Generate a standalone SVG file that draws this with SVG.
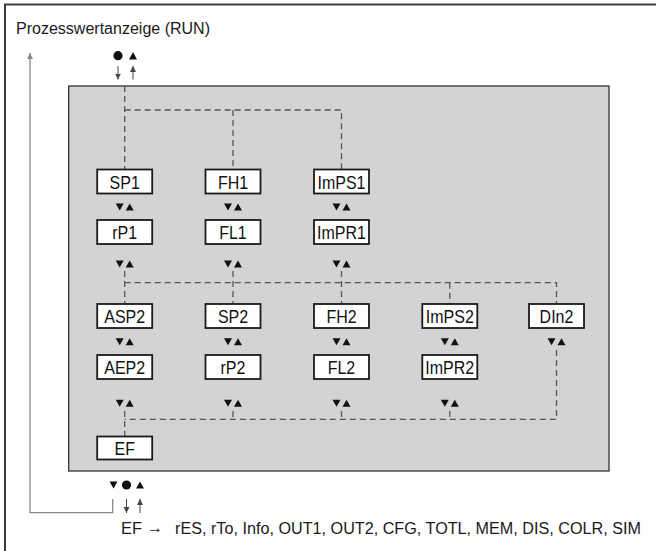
<svg xmlns="http://www.w3.org/2000/svg" width="656" height="551" viewBox="0 0 656 551">
<style>
.lbl{font-family:"Liberation Sans",Arial,sans-serif;font-size:18px;fill:#111;text-anchor:middle}
.txt{font-family:"Liberation Sans",Arial,sans-serif;font-size:16px;fill:#1a1a1a}
.box{fill:#fff;stroke:#1a1a1a;stroke-width:1.8}
.dash{fill:none;stroke:#555;stroke-width:1.3;stroke-dasharray:6 4}
.thin{fill:none;stroke:#444;stroke-width:1}
.ret{fill:none;stroke:#8a8a8a;stroke-width:1.3}
.sym{fill:#111}
</style>
<defs>
<marker id="ah" viewBox="0 0 6 8" refX="6" refY="4" markerWidth="6" markerHeight="8" markerUnits="userSpaceOnUse" orient="auto">
<path d="M0,1 L6,4 L0,7 Z" fill="#444"/>
</marker>
<marker id="ahg" viewBox="0 0 6 8" refX="6" refY="4" markerWidth="6" markerHeight="8" markerUnits="userSpaceOnUse" orient="auto">
<path d="M0,1 L6,4 L0,7 Z" fill="#8a8a8a"/>
</marker>
<g id="ud">
<polygon points="-9,-3.5 -1,-3.5 -5,3.5" class="sym"/>
<polygon points="1,3.5 9,3.5 5,-3.5" class="sym"/>
</g>
</defs>
<rect width="656" height="551" fill="#fff"/>
<!-- outer frame -->
<path d="M5,551 V4.5 H656" fill="none" stroke="#3a3a3a" stroke-width="2"/>
<text class="txt" x="16" y="33.5" textLength="194" lengthAdjust="spacingAndGlyphs" font-size="17">Prozesswertanzeige (RUN)</text>
<!-- gray panel -->
<rect x="68.7" y="86" width="540.3" height="385" fill="#d3d3d3" stroke="#333" stroke-width="1.3"/>
<!-- top keys -->
<g id="keys-top">
<circle cx="118" cy="55.7" r="4.6" class="sym"/>
<polygon points="129,59.5 137,59.5 133,52" class="sym"/>
</g>
<!-- bottom keys -->
<g id="keys-bottom">
<polygon points="109.5,481.5 117.5,481.5 113.5,488.5" class="sym"/>
<circle cx="126.5" cy="485" r="4.6" class="sym"/>
<polygon points="136,488.5 144,488.5 140,481.5" class="sym"/>
</g>
<g id="connectors">
<line x1="118" y1="66" x2="118" y2="79.5" class="thin" marker-end="url(#ah)"/>
<line x1="133" y1="79.5" x2="133" y2="66" class="thin" marker-end="url(#ah)"/>
<line x1="126.5" y1="499" x2="126.5" y2="513" class="thin" marker-end="url(#ah)"/>
<line x1="140" y1="513" x2="140" y2="499" class="thin" marker-end="url(#ah)"/>
<path d="M112.7,499 V512.7 H30 V53" class="ret" marker-end="url(#ahg)"/>
<!-- top branch -->
<path d="M124.7,86 V169.5" class="dash"/>
<path d="M124.7,110 H341.5 V169.5" class="dash"/>
<path d="M233,110 V169.5" class="dash"/>
<!-- middle branch -->
<path d="M124.7,271 V304" class="dash"/>
<path d="M233,271 V304" class="dash"/>
<path d="M341.5,271 V304" class="dash"/>
<path d="M124.7,282.7 H556.5 V304" class="dash"/>
<path d="M449.8,282.7 V304" class="dash"/>
<!-- bottom branch -->
<path d="M556.5,350 V419.3 H124.7" class="dash"/>
<path d="M124.7,411 V436.5" class="dash"/>
<path d="M233,411 V419.3" class="dash"/>
<path d="M341.5,411 V419.3" class="dash"/>
<path d="M449.8,411 V419.3" class="dash"/>
<!-- up/down key pairs -->
<use href="#ud" x="124.7" y="207"/>
<use href="#ud" x="233" y="207"/>
<use href="#ud" x="341.5" y="207"/>
<use href="#ud" x="124.7" y="264"/>
<use href="#ud" x="233" y="264"/>
<use href="#ud" x="341.5" y="264"/>
<use href="#ud" x="124.7" y="341.7"/>
<use href="#ud" x="233" y="341.7"/>
<use href="#ud" x="341.5" y="341.7"/>
<use href="#ud" x="449.8" y="341.7"/>
<use href="#ud" x="556.5" y="341.7"/>
<use href="#ud" x="124.7" y="403.3"/>
<use href="#ud" x="233" y="403.3"/>
<use href="#ud" x="341.5" y="403.3"/>
<use href="#ud" x="449.8" y="403.3"/>
</g>
<!-- row 1 -->
<g id="SP1"><rect class="box" x="97.2" y="169.5" width="55" height="24"/><text class="lbl" x="124.7" y="188.5" textLength="30.2" lengthAdjust="spacingAndGlyphs">SP1</text></g>
<g id="FH1"><rect class="box" x="205.5" y="169.5" width="55" height="24"/><text class="lbl" x="233" y="188.5" textLength="30.2" lengthAdjust="spacingAndGlyphs">FH1</text></g>
<g id="ImPS1"><rect class="box" x="314" y="169.5" width="55" height="24"/><text class="lbl" x="341.5" y="188.5" textLength="48" lengthAdjust="spacingAndGlyphs">ImPS1</text></g>
<!-- row 2 -->
<g id="rP1"><rect class="box" x="97.2" y="220" width="55" height="24"/><text class="lbl" x="124.7" y="239" textLength="24.9" lengthAdjust="spacingAndGlyphs">rP1</text></g>
<g id="FL1"><rect class="box" x="205.5" y="220" width="55" height="24"/><text class="lbl" x="233" y="239" textLength="27.5" lengthAdjust="spacingAndGlyphs">FL1</text></g>
<g id="ImPR1"><rect class="box" x="314" y="220" width="55" height="24"/><text class="lbl" x="341.5" y="239" textLength="48.9" lengthAdjust="spacingAndGlyphs">ImPR1</text></g>
<!-- row 3 -->
<g id="ASP2"><rect class="box" x="97.2" y="304" width="55" height="24"/><text class="lbl" x="124.7" y="323" textLength="40.9" lengthAdjust="spacingAndGlyphs">ASP2</text></g>
<g id="SP2"><rect class="box" x="205.5" y="304" width="55" height="24"/><text class="lbl" x="233" y="323" textLength="30.2" lengthAdjust="spacingAndGlyphs">SP2</text></g>
<g id="FH2"><rect class="box" x="314" y="304" width="55" height="24"/><text class="lbl" x="341.5" y="323" textLength="30.2" lengthAdjust="spacingAndGlyphs">FH2</text></g>
<g id="ImPS2"><rect class="box" x="422.3" y="304" width="55" height="24"/><text class="lbl" x="449.8" y="323" textLength="48" lengthAdjust="spacingAndGlyphs">ImPS2</text></g>
<g id="DIn2"><rect class="box" x="529" y="304" width="55" height="24"/><text class="lbl" x="556.5" y="323" textLength="33.8" lengthAdjust="spacingAndGlyphs">DIn2</text></g>
<!-- row 4 -->
<g id="AEP2"><rect class="box" x="97.2" y="355" width="55" height="24"/><text class="lbl" x="124.7" y="374" textLength="40.9" lengthAdjust="spacingAndGlyphs">AEP2</text></g>
<g id="rP2"><rect class="box" x="205.5" y="355" width="55" height="24"/><text class="lbl" x="233" y="374" textLength="24.9" lengthAdjust="spacingAndGlyphs">rP2</text></g>
<g id="FL2"><rect class="box" x="314" y="355" width="55" height="24"/><text class="lbl" x="341.5" y="374" textLength="27.5" lengthAdjust="spacingAndGlyphs">FL2</text></g>
<g id="ImPR2"><rect class="box" x="422.3" y="355" width="55" height="24"/><text class="lbl" x="449.8" y="374" textLength="48.9" lengthAdjust="spacingAndGlyphs">ImPR2</text></g>
<!-- EF -->
<g id="EF"><rect class="box" x="97.2" y="436.5" width="55" height="23"/><text class="lbl" x="124.7" y="455" textLength="20.4" lengthAdjust="spacingAndGlyphs">EF</text></g>
<!-- bottom text -->
<text class="txt" x="121" y="534" textLength="21" lengthAdjust="spacingAndGlyphs">EF</text>
<text class="txt" x="147" y="533" font-size="16">→</text>
<text class="txt" x="175" y="534" textLength="466" lengthAdjust="spacingAndGlyphs">rES, rTo, Info, OUT1, OUT2, CFG, TOTL, MEM, DIS, COLR, SIM</text>
</svg>
